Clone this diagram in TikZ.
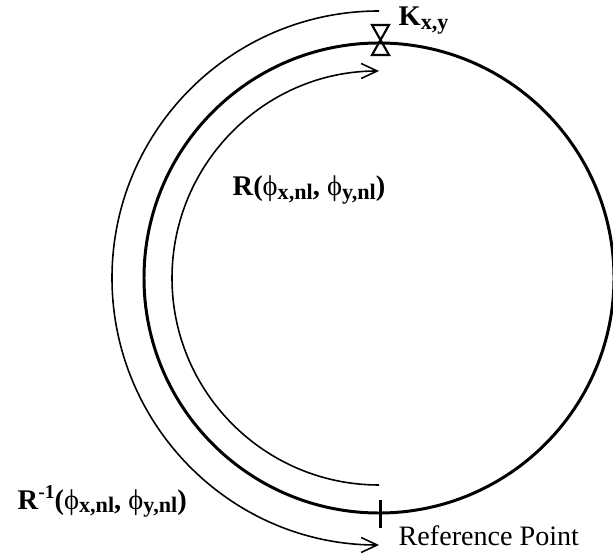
\documentclass[tikz,border=0pt]{standalone}
\usepackage{fontspec}
\setmainfont{Liberation Serif}
\usetikzlibrary{arrows.meta,calc}
\tikzset{
  ring/.style={line width=0.85pt, draw=black},
  sweep/.style={line width=0.45pt, draw=black,
                -{Straight Barb[length=1.6mm,width=1.5mm]}},
  valve/.style={line width=0.6pt, draw=black, line join=miter},
  lab/.style={inner sep=0pt, anchor=base west,
              font=\fontsize{8.1}{9.5}\selectfont\bfseries},
  txt/.style={inner sep=0pt, anchor=base west,
              font=\fontsize{8}{9.5}\selectfont},
}
\newcommand{\ph}{{\mdseries ϕ}}
\newcommand{\sbs}[1]{\raisebox{-0.12em}{\fontsize{6.3}{7}\selectfont #1}}
\newcommand{\sps}[1]{\raisebox{0.36em}{\fontsize{5.6}{6}\selectfont #1}}

\begin{document}
\begin{tikzpicture}
\useasboundingbox (-3.79,-2.77) rectangle (2.34,2.78);

% ------------------------- ring -----------------------------------------
\draw[ring] (0,0) circle[radius=2.35];
\coordinate (ktop) at (0.015,2.38);
\coordinate (refpt) at (0.01,-2.36);

% valve K at the top, tick at the reference point
\draw[valve] ($(ktop)+(-0.085,0.15)$) -- ($(ktop)+(0.085,0.15)$)
   -- ($(ktop)+(-0.085,-0.15)$) -- ($(ktop)+(0.085,-0.15)$) -- cycle;
\draw[ring] ($(refpt)+(0,0.14)$) -- ($(refpt)+(0,-0.14)$);

% ------------------------- sweeps ---------------------------------------
\coordinate (inbot) at (0,-2.07);
\coordinate (outtop) at (0,2.67);
\draw[sweep] (inbot) arc[start angle=270, end angle=90, radius=2.07];
\draw[sweep] (outtop) arc[start angle=90, end angle=270, radius=2.67];

% ------------------------- labels ---------------------------------------
\node[lab] at (0.19,2.52) (klab) {K\sbs{x,y}};
\node[lab] at (-1.47,0.82) (rlab) {R(\ph\sbs{x,nl}, \ph\sbs{y,nl})};
\node[lab] at (-3.62,-2.31) (rinv)
   {R\sps{-1}(\ph\sbs{x,nl}, \ph\sbs{y,nl})};
\node[txt] at (0.19,-2.67) (reflab) {Reference Point};
\end{tikzpicture}
\end{document}
